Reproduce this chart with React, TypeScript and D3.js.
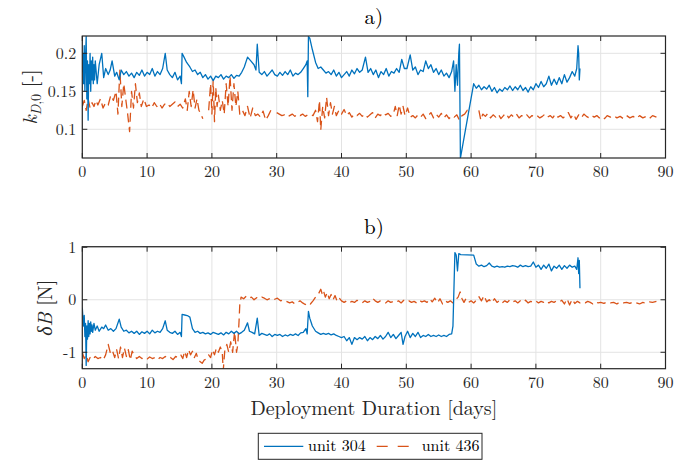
import React from "react";
import * as d3 from "d3";

// ---------- data ----------
const xTicks = [0, 10, 20, 30, 40, 50, 60, 70, 80, 90];
const kTicks = [0.1, 0.15, 0.2];
const kTickLabels = ["0.1", "0.15", "0.2"];
const dbTicks = [-1, 0, 1];
const dbTickLabels = ["-1", "0", "1"];
const seriesNames = ["unit 304", "unit 436"];

// unit 304, k_D,0  [day, value]
const k304: [number, number | null][] = [
  [0, 0.175], [0.1, 0.2], [0.2, 0.16], [0.3, 0.21], [0.4, 0.15], [0.5, 0.195], [0.6, 0.222], [0.7, 0.14],
  [0.8, 0.19], [0.9, 0.112], [1.0, 0.185], [1.1, 0.16], [1.2, 0.2], [1.3, 0.15], [1.4, 0.19], [1.5, 0.165],
  [1.6, 0.195], [1.7, 0.16], [1.8, 0.185], [1.9, 0.165], [2.0, 0.19], [2.3, 0.16], [2.6, 0.185], [3.0, 0.2],
  [3.3, 0.168], [3.6, 0.18], [4.0, 0.172], [4.3, 0.178], [4.6, 0.19], [5.0, 0.17], [5.3, 0.175], [5.7, 0.165],
  [6.0, 0.178], [6.4, 0.172], [6.8, 0.176], [7.2, 0.17], [7.6, 0.174], [8.0, 0.168], [8.4, 0.175], [8.8, 0.171],
  [9.2, 0.178], [9.6, 0.17], [10.0, 0.175], [10.4, 0.172], [10.8, 0.18], [11.2, 0.17], [11.6, 0.176], [12.0, 0.172],
  [12.4, 0.18], [12.8, 0.2], [13.1, 0.178], [13.5, 0.172], [13.9, 0.168], [14.3, 0.175], [14.7, 0.165], [15.1, 0.17],
  [15.3, 0.16], [15.4, 0.2], [15.7, 0.195], [16.1, 0.188], [16.6, 0.182], [17.0, 0.176], [17.4, 0.178], [17.8, 0.172],
  [18.2, 0.175], [18.6, 0.168], [19.0, 0.172], [19.4, 0.166], [19.8, 0.17], [20.2, 0.164], [20.6, 0.17], [21.0, 0.168],
  [21.4, 0.172], [21.8, 0.166], [22.2, 0.17], [22.6, 0.168], [23.0, 0.172], [23.4, 0.167], [23.8, 0.171], [24.2, 0.17],
  [24.6, 0.175], [25.0, 0.182], [25.5, 0.195], [26.0, 0.19], [26.5, 0.185], [26.8, 0.178], [27.0, 0.212], [27.3, 0.175],
  [27.7, 0.172], [28.1, 0.176], [28.5, 0.17], [28.9, 0.174], [29.3, 0.178], [29.7, 0.172], [30.1, 0.17], [30.5, 0.175],
  [30.9, 0.171], [31.3, 0.176], [31.7, 0.172], [32.1, 0.178], [32.5, 0.17], [32.9, 0.174], [33.3, 0.172], [33.7, 0.175],
  [34.1, 0.18], [34.5, 0.185], [34.7, 0.19], [34.8, 0.143], [34.9, 0.222], [35.1, 0.22], [35.5, 0.205], [36.0, 0.188],
  [36.4, 0.18], [36.8, 0.182], [37.2, 0.178], [37.6, 0.174], [38.0, 0.176], [38.4, 0.172], [38.8, 0.178], [39.2, 0.17],
  [39.6, 0.175], [40.0, 0.168], [40.4, 0.172], [40.8, 0.176], [41.2, 0.17], [41.6, 0.178], [42.0, 0.173], [42.4, 0.18],
  [42.8, 0.175], [43.2, 0.178], [43.7, 0.195], [44.1, 0.175], [44.5, 0.18], [44.9, 0.172], [45.3, 0.178], [45.7, 0.168],
  [46.1, 0.176], [46.5, 0.172], [46.9, 0.18], [47.3, 0.17], [47.7, 0.176], [48.1, 0.174], [48.5, 0.18], [48.9, 0.175],
  [49.3, 0.192], [49.7, 0.18], [50.1, 0.18], [50.6, 0.198], [51.0, 0.178], [51.4, 0.182], [51.8, 0.172], [52.2, 0.178],
  [52.6, 0.176], [53.0, 0.19], [53.4, 0.18], [53.8, 0.185], [54.2, 0.175], [54.6, 0.18], [55.0, 0.172], [55.4, 0.178],
  [55.8, 0.17], [56.2, 0.174], [56.6, 0.168], [57.0, 0.176], [57.3, 0.19], [57.5, 0.15], [57.7, 0.185], [57.9, 0.158],
  [58.1, 0.2], [58.2, 0.212], [58.35, 0.062], [60.4, 0.16], [60.8, 0.154], [61.2, 0.158], [61.6, 0.152], [62.0, 0.156],
  [62.4, 0.153], [62.8, 0.158], [63.2, 0.15], [63.6, 0.155], [64.0, 0.148], [64.4, 0.153], [64.8, 0.15], [65.2, 0.155],
  [65.6, 0.152], [66.0, 0.157], [66.4, 0.151], [66.8, 0.156], [67.2, 0.152], [67.6, 0.158], [68.0, 0.151], [68.4, 0.155],
  [68.8, 0.149], [69.2, 0.156], [69.6, 0.152], [70.0, 0.16], [70.4, 0.155], [70.8, 0.163], [71.2, 0.156], [71.6, 0.16],
  [72.0, 0.17], [72.4, 0.158], [72.8, 0.166], [73.2, 0.159], [73.6, 0.168], [74.0, 0.16], [74.4, 0.172], [74.8, 0.162],
  [75.2, 0.168], [75.6, 0.176], [76.0, 0.17], [76.3, 0.18], [76.5, 0.21], [76.6, 0.2], [76.7, 0.165], [76.8, 0.18],
];

// unit 436, k_D,0
const k436: [number, number | null][] = [
  [0, 0.13], [0.3, 0.138], [0.6, 0.125], [0.9, 0.14], [1.2, 0.128], [1.5, 0.135], [1.8, 0.13], [2.1, 0.138],
  [2.4, 0.132], [2.8, 0.14], [3.2, 0.128], [3.6, 0.135], [4.0, 0.132], [4.4, 0.145], [4.8, 0.138], [5.2, 0.15],
  [5.5, 0.12], [5.8, 0.178], [6.1, 0.13], [6.4, 0.16], [6.7, 0.14], [7.0, 0.12], [7.3, 0.097], [7.6, 0.15],
  [7.9, 0.128], [8.2, 0.16], [8.5, 0.135], [8.8, 0.148], [9.1, 0.13], [9.5, 0.14], [9.9, 0.13], [10.3, 0.132],
  [10.7, 0.128], [11.1, 0.135], [11.5, 0.13], [11.9, 0.134], [12.3, 0.128], [12.7, 0.133], [13.1, 0.135], [13.5, 0.13],
  [13.9, 0.133], [14.3, 0.136], [14.7, 0.13], [15.1, 0.133], [15.5, 0.128], [15.9, 0.14], [16.2, 0.125], [16.5, 0.15],
  [16.8, 0.13], [17.1, 0.152], [17.4, 0.128], [17.7, 0.14], [18.0, 0.125], [18.3, 0.12], [18.6, 0.114], [19.0, null],
  [19.5, 0.125], [19.8, 0.16], [20.0, 0.12], [20.2, 0.165], [20.4, 0.11], [20.6, 0.155], [20.8, 0.13], [21.0, 0.145],
  [21.3, 0.125], [21.6, 0.138], [21.9, 0.12], [22.2, 0.16], [22.5, 0.13], [22.8, 0.17], [23.1, 0.125], [23.4, 0.16],
  [23.7, 0.13], [24.0, 0.15], [24.3, 0.12], [24.7, 0.125], [25.1, 0.118], [25.5, 0.13], [25.9, 0.115], [26.3, 0.128],
  [26.7, 0.118], [27.1, 0.12], [27.5, 0.116], [27.9, 0.124], [28.3, 0.112], [28.7, 0.118], [29.1, 0.125], [29.5, null],
  [30.0, 0.122], [30.4, 0.12], [30.8, 0.118], [31.2, 0.119], [31.6, 0.116], [32.0, 0.118], [32.4, 0.12], [32.8, 0.117],
  [33.2, 0.12], [33.6, 0.118], [34.0, 0.12], [34.4, 0.117], [34.8, 0.119], [35.2, 0.12], [35.6, 0.118], [36.0, 0.125],
  [36.3, 0.11], [36.6, 0.138], [36.8, 0.099], [37.1, 0.13], [37.4, 0.115], [37.7, 0.142], [38.0, 0.118], [38.3, 0.135],
  [38.6, 0.12], [38.9, 0.13], [39.2, 0.118], [39.6, 0.125], [40.0, 0.12], [40.4, 0.126], [40.8, 0.118], [41.2, 0.122],
  [41.6, 0.116], [42.0, 0.12], [42.4, 0.118], [42.8, 0.121], [43.2, 0.117], [43.6, 0.12], [44.0, 0.116], [44.4, 0.119],
  [44.8, 0.122], [45.2, 0.115], [45.6, 0.12], [46.0, 0.118], [46.4, 0.122], [46.8, 0.119], [47.2, 0.121], [47.6, 0.117],
  [48.0, 0.12], [48.3, 0.13], [48.6, 0.118], [48.9, 0.132], [49.2, 0.12], [49.5, 0.13], [49.8, 0.118], [50.2, 0.128],
  [50.6, 0.116], [51.0, 0.118], [51.4, 0.115], [51.8, 0.119], [52.2, 0.116], [52.6, 0.12], [53.0, 0.114], [53.4, 0.118],
  [53.8, 0.122], [54.2, 0.115], [54.6, 0.12], [55.0, 0.116], [55.4, 0.121], [55.8, 0.115], [56.2, 0.119], [56.6, 0.114],
  [57.0, 0.118], [57.4, 0.116], [57.8, 0.119], [58.2, 0.112], [58.6, 0.118], [59.0, 0.12], [59.4, 0.125], [59.8, 0.122],
  [60.8, null], [61.2, 0.125], [61.5, 0.112], [61.8, 0.12], [62.2, 0.117], [62.6, 0.121], [63.0, 0.115], [63.4, 0.119],
  [63.8, 0.116], [64.2, 0.12], [64.6, 0.114], [65.0, 0.118], [65.4, 0.121], [65.8, 0.115], [66.2, 0.119], [66.6, 0.116],
  [67.0, 0.12], [67.4, 0.115], [67.8, 0.118], [68.2, 0.116], [68.6, 0.119], [69.0, 0.115], [69.4, 0.118], [69.8, 0.116],
  [70.2, 0.118], [70.6, 0.115], [71.0, 0.117], [71.4, 0.12], [71.8, 0.116], [72.2, 0.118], [72.6, 0.115], [73.0, 0.12],
  [73.4, 0.116], [73.8, 0.118], [74.2, 0.115], [74.6, 0.118], [75.0, 0.122], [75.4, 0.115], [75.8, 0.12], [76.2, 0.113],
  [76.6, 0.119], [77.0, 0.115], [77.4, 0.12], [77.8, 0.117], [78.2, 0.115], [78.6, 0.118], [79.0, 0.116], [79.4, 0.118],
  [79.8, 0.115], [80.2, 0.117], [80.6, 0.114], [81.0, 0.118], [81.5, 0.116], [82.0, 0.118], [82.5, 0.115], [83.0, 0.117],
  [83.5, 0.114], [84.0, 0.118], [84.5, 0.115], [85.0, 0.117], [85.5, 0.114], [86.0, 0.118], [86.5, 0.115], [87.0, 0.117],
  [87.5, 0.114], [88.0, 0.118], [88.6, 0.116],
];

// unit 304, delta B [N]
const db304: [number, number | null][] = [
  [0, -0.15], [0.1, -0.35], [0.2, -0.5], [0.3, -0.3], [0.4, -0.7], [0.5, -0.45], [0.6, -1.25], [0.7, -0.5],
  [0.8, -0.75], [0.9, -0.4], [1.0, -0.7], [1.1, -0.45], [1.2, -0.65], [1.3, -0.42], [1.4, -0.6], [1.5, -0.48],
  [1.6, -0.62], [1.8, -0.45], [2.0, -0.58], [2.3, -0.5], [2.6, -0.6], [3.0, -0.52], [3.3, -0.55], [3.6, -0.48],
  [4.0, -0.58], [4.4, -0.55], [4.8, -0.6], [5.2, -0.55], [5.7, -0.37], [6.0, -0.52], [6.4, -0.6], [6.8, -0.58],
  [7.2, -0.63], [7.6, -0.6], [8.0, -0.64], [8.4, -0.6], [8.8, -0.66], [9.2, -0.61], [9.6, -0.64], [10.0, -0.6],
  [10.4, -0.65], [10.8, -0.58], [11.2, -0.63], [11.6, -0.6], [12.0, -0.62], [12.4, -0.55], [12.8, -0.4], [13.1, -0.58],
  [13.5, -0.62], [13.9, -0.64], [14.3, -0.6], [14.7, -0.66], [15.1, -0.62], [15.3, -0.7], [15.4, -0.28], [15.8, -0.29],
  [16.2, -0.3], [16.6, -0.33], [17.0, -0.55], [17.4, -0.62], [17.8, -0.6], [18.2, -0.64], [18.6, -0.62], [19.0, -0.65],
  [19.4, -0.63], [19.8, -0.66], [20.2, -0.62], [20.6, -0.64], [21.0, -0.66], [21.4, -0.63], [21.8, -0.67], [22.2, -0.62],
  [22.6, -0.65], [23.0, -0.6], [23.4, -0.64], [23.8, -0.6], [24.2, -0.65], [24.6, -0.62], [25.0, -0.58], [25.5, -0.44],
  [25.8, -0.6], [26.2, -0.62], [26.6, -0.65], [27.0, -0.35], [27.3, -0.68], [27.7, -0.64], [28.1, -0.66], [28.5, -0.68],
  [28.9, -0.65], [29.3, -0.7], [29.7, -0.66], [30.1, -0.68], [30.5, -0.66], [30.9, -0.7], [31.3, -0.67], [31.7, -0.69],
  [32.1, -0.66], [32.5, -0.68], [32.9, -0.65], [33.3, -0.68], [33.7, -0.63], [34.1, -0.62], [34.5, -0.55], [34.7, -0.65],
  [34.9, -0.22], [35.1, -0.35], [35.5, -0.5], [36.0, -0.6], [36.4, -0.63], [36.8, -0.66], [37.2, -0.64], [37.6, -0.66],
  [38.0, -0.64], [38.4, -0.67], [38.8, -0.65], [39.2, -0.68], [39.6, -0.7], [40.0, -0.72], [40.4, -0.7], [40.8, -0.78],
  [41.2, -0.72], [41.6, -0.85], [42.0, -0.72], [42.4, -0.76], [42.8, -0.72], [43.2, -0.75], [43.6, -0.7], [44.0, -0.78],
  [44.4, -0.72], [44.8, -0.76], [45.2, -0.7], [45.6, -0.74], [46.0, -0.68], [46.4, -0.75], [46.8, -0.7], [47.2, -0.62],
  [47.6, -0.72], [48.0, -0.66], [48.4, -0.74], [48.8, -0.68], [49.2, -0.62], [49.5, -0.85], [49.8, -0.7], [50.2, -0.6],
  [50.6, -0.72], [51.0, -0.64], [51.4, -0.7], [51.8, -0.62], [52.2, -0.72], [52.6, -0.68], [53.0, -0.7], [53.4, -0.66],
  [53.8, -0.7], [54.2, -0.68], [54.6, -0.7], [55.0, -0.67], [55.4, -0.7], [55.8, -0.68], [56.2, -0.7], [56.6, -0.66],
  [57.0, -0.65], [57.2, -0.5], [57.5, 0.9], [57.7, 0.85], [57.9, 0.55], [58.1, 0.88], [58.4, 0.86], [60.4, 0.85],
  [60.8, 0.68], [61.2, 0.64], [61.6, 0.66], [62.0, 0.63], [62.4, 0.65], [62.8, 0.7], [63.2, 0.64], [63.6, 0.62],
  [64.0, 0.64], [64.4, 0.62], [64.8, 0.63], [65.2, 0.62], [65.6, 0.64], [66.0, 0.63], [66.4, 0.65], [66.8, 0.64],
  [67.2, 0.62], [67.6, 0.66], [68.0, 0.63], [68.4, 0.65], [68.8, 0.63], [69.2, 0.64], [69.6, 0.72], [70.0, 0.62],
  [70.4, 0.66], [70.8, 0.58], [71.2, 0.66], [71.6, 0.6], [72.0, 0.68], [72.4, 0.55], [72.8, 0.64], [73.2, 0.6],
  [73.6, 0.66], [74.0, 0.58], [74.4, 0.65], [74.8, 0.6], [75.2, 0.66], [75.6, 0.62], [76.0, 0.64], [76.3, 0.58],
  [76.5, 0.8], [76.6, 0.5], [76.7, 0.75], [76.8, 0.22],
];

// unit 436, delta B [N]
const db436: [number, number | null][] = [
  [0, -1.0], [0.3, -1.12], [0.6, -1.05], [0.9, -1.18], [1.2, -1.1], [1.6, -1.14], [2.0, -1.08], [2.4, -1.12],
  [2.8, -1.1], [3.2, -1.15], [3.6, -1.05], [4.0, -0.85], [4.3, -1.0], [4.6, -0.95], [5.0, -1.1], [5.3, -0.95],
  [5.6, -1.12], [5.9, -0.9], [6.2, -1.1], [6.5, -0.92], [6.8, -1.08], [7.1, -0.95], [7.4, -1.15], [7.7, -0.98],
  [8.0, -1.05], [8.4, -1.12], [8.8, -1.08], [9.2, -1.12], [9.6, -1.1], [10.0, -1.13], [10.4, -1.09], [10.8, -1.12],
  [11.2, -1.1], [11.6, -1.14], [12.0, -1.1], [12.4, -1.12], [12.8, -1.08], [13.2, -1.12], [13.6, -1.1], [14.0, -1.14],
  [14.4, -1.08], [14.8, -1.1], [15.2, -1.05], [15.5, -1.12], [15.8, -0.98], [16.1, -1.1], [16.4, -0.95], [16.7, -1.05],
  [17.0, -0.98], [17.3, -1.1], [17.6, -1.02], [17.9, -1.15], [18.2, -1.18], [18.5, -1.21], [18.8, -1.15], [19.2, -1.12],
  [19.5, -1.05], [19.8, -1.1], [20.1, -0.95], [20.4, -1.05], [20.7, -0.92], [21.0, -1.0], [21.3, -0.9], [21.6, -1.0],
  [21.75, -1.35], [22.0, -0.95], [22.3, -0.85], [22.6, -1.0], [22.9, -0.8], [23.2, -1.0], [23.5, -0.6], [23.8, -1.0],
  [24.0, -0.85], [24.2, -0.38], [24.3, -0.1], [24.5, 0.05], [24.9, 0.02], [25.3, 0.07], [25.7, 0.03], [26.1, 0.05],
  [26.5, 0.0], [26.9, 0.04], [27.3, 0.02], [27.7, 0.05], [28.1, 0.03], [28.5, 0.0], [28.9, 0.02], [29.3, 0.04],
  [29.7, 0.01], [30.1, 0.03], [30.6, -0.02], [31.0, 0.0], [31.5, -0.03], [32.0, -0.06], [32.4, -0.04], [32.8, -0.08],
  [33.2, -0.05], [33.6, -0.02], [34.0, -0.06], [34.4, -0.09], [34.8, -0.05], [35.2, -0.08], [35.6, -0.02], [36.0, 0.05],
  [36.4, 0.1], [36.8, 0.2], [37.0, 0.12], [37.2, 0.18], [37.5, 0.05], [37.8, 0.14], [38.1, 0.02], [38.4, 0.1],
  [38.7, 0.0], [39.0, 0.08], [39.3, -0.02], [39.6, 0.04], [40.0, -0.02], [40.4, -0.05], [40.8, -0.02], [41.2, -0.06],
  [41.6, -0.03], [42.0, -0.05], [42.4, -0.01], [42.8, -0.04], [43.2, -0.06], [43.6, -0.02], [44.0, -0.05], [44.4, -0.03],
  [44.8, 0.03], [45.2, -0.02], [45.6, -0.05], [46.0, -0.02], [46.4, -0.04], [46.8, -0.06], [47.2, -0.02], [47.6, -0.05],
  [48.0, -0.03], [48.4, -0.05], [48.8, -0.02], [49.2, -0.06], [49.6, -0.01], [50.0, -0.04], [50.4, -0.02], [50.8, -0.05],
  [51.2, -0.03], [51.6, -0.06], [52.0, -0.01], [52.4, -0.04], [52.8, -0.02], [53.2, -0.05], [53.6, 0.02], [54.0, -0.04],
  [54.4, 0.03], [54.8, -0.06], [55.2, 0.02], [55.6, -0.08], [56.0, -0.02], [56.4, -0.05], [56.8, -0.02], [57.2, -0.06],
  [57.6, 0.0], [58.0, 0.05], [58.3, 0.15], [58.6, 0.02], [58.9, -0.05], [59.2, 0.02], [59.6, -0.05], [60.0, -0.02],
  [60.4, -0.06], [60.8, -0.01], [61.2, 0.06], [61.6, -0.02], [62.0, 0.08], [62.4, -0.04], [62.8, 0.0], [63.2, -0.06],
  [63.6, 0.02], [64.0, -0.05], [64.4, -0.01], [64.8, -0.06], [65.2, -0.02], [65.6, -0.05], [66.0, 0.0], [66.4, -0.04],
  [66.8, -0.02], [67.2, -0.06], [67.6, -0.02], [68.0, -0.05], [68.4, -0.01], [68.8, -0.06], [69.2, -0.03], [69.6, -0.05],
  [70.0, -0.02], [70.4, -0.06], [70.8, -0.03], [71.2, -0.05], [71.6, -0.02], [72.0, -0.06], [72.4, -0.03], [72.8, -0.05],
  [73.2, -0.02], [73.6, -0.04], [74.0, -0.01], [74.4, -0.08], [74.8, 0.02], [75.2, -0.1], [75.6, 0.01], [76.0, -0.07],
  [76.4, -0.03], [76.8, -0.06], [77.2, -0.04], [77.6, -0.06], [78.0, -0.03], [78.4, -0.05], [78.8, -0.08], [79.2, -0.04],
  [79.6, -0.06], [80.0, -0.05], [80.5, -0.07], [81.0, -0.04], [81.5, -0.06], [82.0, -0.05], [82.5, -0.08], [83.0, -0.04],
  [83.5, -0.06], [84.0, -0.05], [84.5, -0.07], [85.0, -0.04], [85.5, -0.06], [86.0, -0.08], [86.5, -0.05], [87.0, -0.07],
  [87.5, -0.04], [88.0, -0.05], [88.6, -0.03],
];

// ---------- layout ----------
const W = 697;
const H = 460;
const X0 = 82.3;
const X1 = 665.5;

type Pt = [number, number | null];

function txt(size: number) {
  return { fontFamily: "Latin Modern Roman", fontSize: size + "px" };
}

function Panel(props: {
  id: string;
  top: number;
  bottom: number;
  domain: [number, number];
  yTicks: number[];
  yLabels: string[];
  s1: Pt[];
  s2: Pt[];
}) {
  const { id, top, bottom, domain, yTicks, yLabels, s1, s2 } = props;
  const blue = "#0072BD";
  const orange = "#D95319";
  const ax = "#262626";
  const grid = "#e3e3e3";
  const x = d3.scaleLinear().domain([0, 90]).range([X0, X1]);
  const y = d3.scaleLinear().domain(domain).range([bottom, top]);
  const line = d3
    .line<Pt>()
    .defined((d) => d[1] != null)
    .x((d) => x(d[0]))
    .y((d) => y(d[1] as number));
  const tl = 5;
  return (
    <g>
      <defs>
        <clipPath id={id}>
          <rect x={X0} y={top} width={X1 - X0} height={bottom - top} />
        </clipPath>
      </defs>
      <rect x={X0} y={top} width={X1 - X0} height={bottom - top} fill="white" />
      {xTicks.map((t) => (
        <line key={"gx" + t} x1={x(t)} x2={x(t)} y1={top} y2={bottom} stroke={grid} strokeWidth={1} />
      ))}
      {yTicks.map((t) => (
        <line key={"gy" + t} x1={X0} x2={X1} y1={y(t)} y2={y(t)} stroke={grid} strokeWidth={1} />
      ))}
      <g clipPath={`url(#${id})`}>
        <path d={line(s2) || ""} fill="none" stroke={orange} strokeWidth={1.3} strokeDasharray="9,5" strokeLinejoin="round" />
        <path d={line(s1) || ""} fill="none" stroke={blue} strokeWidth={1.3} strokeLinejoin="round" />
      </g>
      {xTicks.map((t) => (
        <g key={"tx" + t}>
          <line x1={x(t)} x2={x(t)} y1={bottom} y2={bottom - tl} stroke={ax} strokeWidth={1} />
          <line x1={x(t)} x2={x(t)} y1={top} y2={top + tl} stroke={ax} strokeWidth={1} />
          <text x={x(t)} y={bottom + 19} textAnchor="middle" fill={ax} style={txt(16)}>
            {t}
          </text>
        </g>
      ))}
      {yTicks.map((t, i) => (
        <g key={"ty" + t}>
          <line x1={X0} x2={X0 + tl} y1={y(t)} y2={y(t)} stroke={ax} strokeWidth={1} />
          <line x1={X1} x2={X1 - tl} y1={y(t)} y2={y(t)} stroke={ax} strokeWidth={1} />
          <text x={X0 - 6} y={y(t)} dy="0.35em" textAnchor="end" fill={ax} style={txt(16)}>
            {yLabels[i]}
          </text>
        </g>
      ))}
      <rect x={X0} y={top} width={X1 - X0} height={bottom - top} fill="none" stroke={ax} strokeWidth={1.2} />
    </g>
  );
}

export default function App() {
  const cx = (X0 + X1) / 2;
  const ax = "#262626";
  return (
    <svg
      width={W}
      height={H}
      viewBox={`0 0 ${W} ${H}`}
      style={{ position: "absolute", left: 0, top: 0, background: "white", fontFamily: "Latin Modern Roman" }}
    >
      <rect x={0} y={0} width={W} height={H} fill="white" />
      <text x={cx} y={24} textAnchor="middle" fill="#000" style={txt(21)}>
        a)
      </text>
      <Panel id="clipA" top={36} bottom={158} domain={[0.0622, 0.2228]} yTicks={kTicks} yLabels={kTickLabels} s1={k304} s2={k436} />
      <text x={cx} y={234} textAnchor="middle" fill="#000" style={txt(21)}>
        b)
      </text>
      <Panel id="clipB" top={246.7} bottom={368.7} domain={[-1.313, 1.011]} yTicks={dbTicks} yLabels={dbTickLabels} s1={db304} s2={db436} />

      <text transform={`translate(37,97) rotate(-90)`} textAnchor="middle" fill={ax} style={txt(20)}>
        <tspan fontStyle="italic">k</tspan>
        <tspan fontStyle="italic" style={{ fontSize: "14px" }} dy={4}>D</tspan>
        <tspan style={{ fontSize: "14px" }}>,0</tspan>
        <tspan dy={-4}> [-]</tspan>
      </text>
      <text transform={`translate(52,307.7) rotate(-90)`} textAnchor="middle" fill={ax} style={txt(20)}>
        <tspan fontStyle="italic">δB</tspan>
        <tspan> [N]</tspan>
      </text>
      <text x={cx} y={415} textAnchor="middle" fill={ax} style={txt(20)}>
        Deployment Duration [days]
      </text>

      <g>
        <rect x={258.3} y={433.3} width={223.7} height={26} fill="white" stroke={ax} strokeWidth={1} />
        <line x1={264} x2={303.3} y1={446.3} y2={446.3} stroke="#0072BD" strokeWidth={1.3} />
        <text x={308} y={451} fill="#000" style={txt(16)}>
          {seriesNames[0]}
        </text>
        <line x1={376.7} x2={412} y1={446.3} y2={446.3} stroke="#D95319" strokeWidth={1.3} strokeDasharray="11,10" />
        <text x={421.7} y={451} fill="#000" style={txt(16)}>
          {seriesNames[1]}
        </text>
      </g>
    </svg>
  );
}
